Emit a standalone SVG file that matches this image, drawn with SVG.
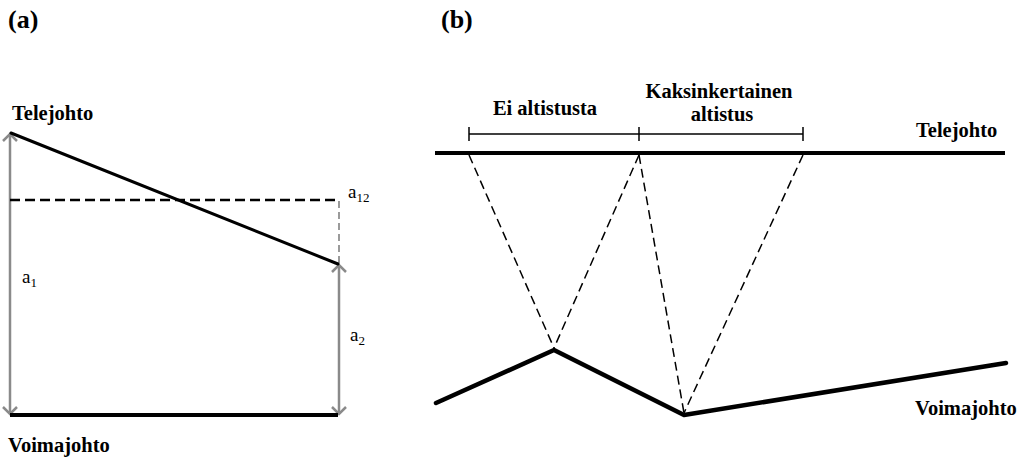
<svg xmlns="http://www.w3.org/2000/svg" width="1019" height="461" viewBox="0 0 1019 461">
<style>
.lbl{font-family:"Liberation Serif","Times New Roman",serif;font-weight:bold;font-size:20.5px;fill:#000}
.pl{font-family:"Liberation Serif","Times New Roman",serif;font-weight:bold;font-size:26px;fill:#000}
.var{font-family:"Liberation Serif","Times New Roman",serif;font-size:19px;fill:#000}
.sub{font-size:13px}
.gray{stroke:#8a8a8a;stroke-width:2.5;fill:none}
.wire{stroke:#000;fill:none;stroke-linecap:round;stroke-linejoin:round}
.dash{stroke:#000;stroke-width:1.5;stroke-dasharray:9 5;fill:none}
</style>
<defs>
<marker id="v" viewBox="-10 -10 20 20" markerWidth="20" markerHeight="20" markerUnits="userSpaceOnUse" refX="0" refY="0" orient="auto-start-reverse">
<path d="M-7,-7 L0,0 L-7,7" fill="none" stroke="#8a8a8a" stroke-width="2.5"/>
</marker>
</defs>
<rect width="1019" height="461" fill="#fff"/>
<text class="pl" x="8" y="28">(a)</text>
<text class="pl" x="441" y="28">(b)</text>

<g id="panel-a">
<g id="a-connectors">
<line class="gray" x1="10" y1="134" x2="10" y2="414" marker-start="url(#v)" marker-end="url(#v)"/>
<line class="gray" x1="339" y1="265" x2="339" y2="414" marker-start="url(#v)" marker-end="url(#v)"/>
<line x1="10" y1="200" x2="340" y2="200" stroke="#000" stroke-width="2.5" stroke-dasharray="10 5"/>
<line x1="339" y1="201" x2="339" y2="263" stroke="#666" stroke-width="1.3" stroke-dasharray="7 4"/>
</g>
<g id="a-telejohto">
<line class="wire" x1="11" y1="133" x2="338" y2="264" stroke-width="3"/>
<text class="lbl" x="12" y="120">Telejohto</text>
</g>
<g id="a-voimajohto">
<line x1="10" y1="415" x2="338" y2="415" stroke="#000" stroke-width="4"/>
<text class="lbl" x="8" y="452">Voimajohto</text>
</g>
<text class="var" x="348" y="198">a<tspan class="sub" dy="4">12</tspan></text>
<text class="var" x="22" y="283">a<tspan class="sub" dy="4">1</tspan></text>
<text class="var" x="350" y="341">a<tspan class="sub" dy="4">2</tspan></text>
</g>

<g id="panel-b">
<g id="b-telejohto">
<line x1="435" y1="153" x2="1005" y2="153" stroke="#000" stroke-width="4"/>
<text class="lbl" x="916" y="137">Telejohto</text>
</g>
<g id="b-voimajohto">
<polyline class="wire" points="436,403 554,350 684,415 1006,363" stroke-width="4.5"/>
<text class="lbl" x="915" y="415">Voimajohto</text>
</g>
<g id="b-dimension">
<line x1="469" y1="134" x2="803" y2="134" stroke="#000" stroke-width="1.5"/>
<line x1="469" y1="127" x2="469" y2="141" stroke="#000" stroke-width="1.5"/>
<line x1="639" y1="127" x2="639" y2="141" stroke="#000" stroke-width="1.5"/>
<line x1="803" y1="127" x2="803" y2="141" stroke="#000" stroke-width="1.5"/>
<text class="lbl" x="545" y="115" text-anchor="middle">Ei altistusta</text>
<text class="lbl" x="719" y="98" text-anchor="middle">Kaksinkertainen</text>
<text class="lbl" x="722" y="121" text-anchor="middle">altistus</text>
</g>
<g id="b-connectors">
<line class="dash" x1="469" y1="155" x2="554" y2="348"/>
<line class="dash" x1="639" y1="155" x2="554" y2="348"/>
<line class="dash" x1="639" y1="155" x2="684" y2="413"/>
<line class="dash" x1="803" y1="155" x2="684" y2="413"/>
</g>
</g>
</svg>
